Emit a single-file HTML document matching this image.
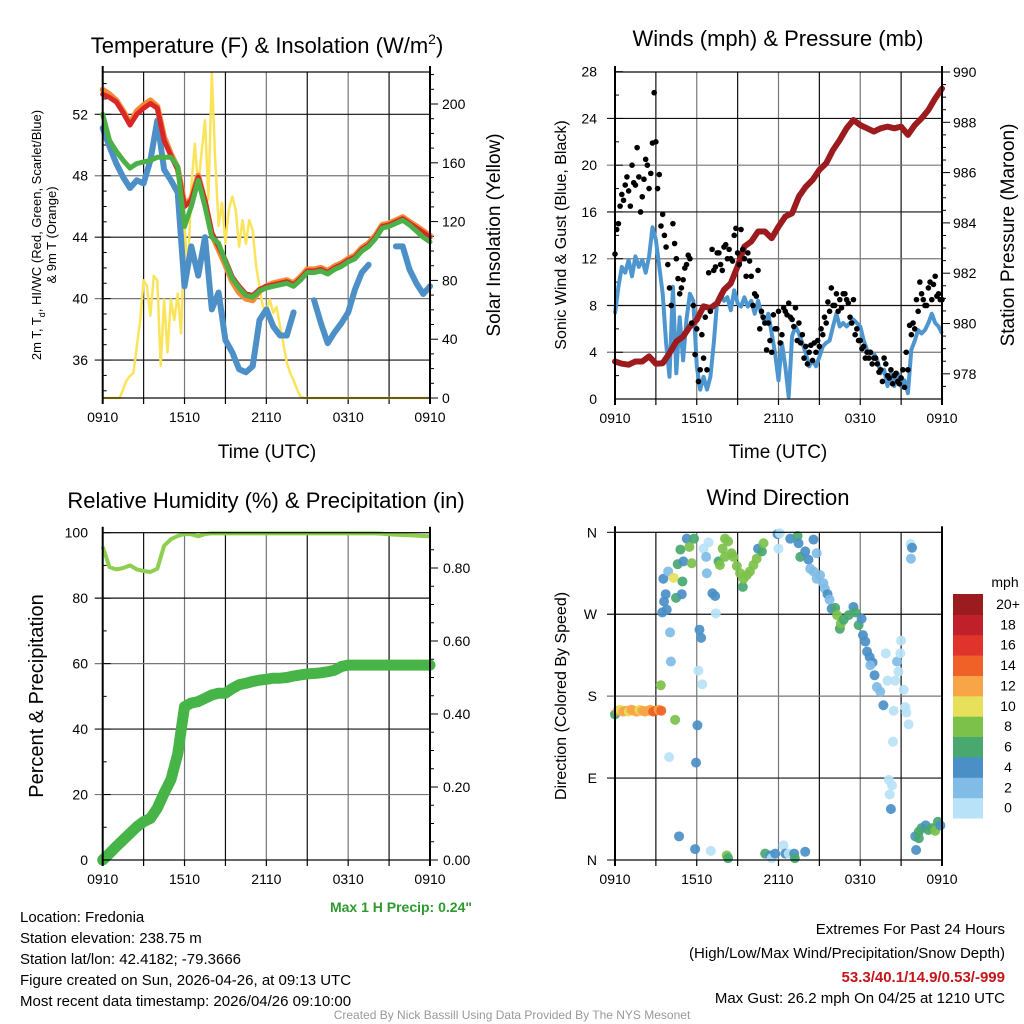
<!DOCTYPE html>
<html><head><meta charset="utf-8"><style>
body{margin:0;background:#fff;}
svg{display:block;font-family:"Liberation Sans",Arial,sans-serif;}
</style></head><body>
<svg id="c" width="1024" height="1024" xmlns="http://www.w3.org/2000/svg"></svg>
<script>
// ---------- DATA ----------
// Temperature panel (0.5h steps, hours 0..24)
const tempRed=[53.3,53.1,52.8,52.1,51.3,52.0,52.4,52.7,52.4,50.3,49.3,48.4,46.0,46.4,47.9,46.4,44.3,43.4,42.5,41.4,40.8,40.3,40.2,40.6,40.8,40.9,41.0,41.1,40.9,41.3,41.8,41.8,41.9,41.7,42.0,42.2,42.5,42.7,43.2,43.5,44.0,44.7,44.8,45.0,45.2,44.9,44.6,44.3,44.0];
const tempOrange=[53.6,53.3,52.9,52.2,51.4,52.2,52.6,52.9,52.5,50.5,49.4,48.5,46.1,46.5,48.0,46.3,44.2,43.2,42.2,41.1,40.4,40.0,39.9,40.5,40.8,41.0,41.1,41.2,41.0,41.4,41.9,41.9,42.0,41.8,42.1,42.3,42.6,42.8,43.3,43.6,44.1,44.8,44.9,45.1,45.3,45.0,44.7,44.4,44.1];
const tempGreen=[52.0,50.3,49.6,49.0,48.5,48.8,48.9,49.0,49.2,49.2,49.2,48.6,44.7,46.0,47.7,46.0,44.0,43.6,42.4,41.3,40.7,40.2,40.1,40.5,40.7,40.8,40.9,41.0,40.8,41.2,41.7,41.7,41.8,41.6,41.9,42.1,42.4,42.6,43.1,43.4,43.9,44.6,44.7,44.9,45.1,44.8,44.4,44.0,43.7];
const tempBlue=[51.1,49.9,48.8,47.9,47.2,47.7,47.5,49.0,51.6,48.4,47.7,46.9,40.8,43.4,41.5,44.0,39.3,40.4,37.3,36.5,35.4,35.2,35.6,38.6,39.3,38.2,37.6,37.6,39.1,null,null,39.9,38.4,37.1,37.8,38.4,39.1,40.6,41.7,42.2,null,null,null,43.4,43.4,41.9,41.0,40.3,40.8];
// Solar insolation (0.25h steps)
const insolation=[0,0,0,0,0,0,6,12,15,17,35,53,80,76,56,83,80,22,67,31,67,53,71,44,117,85,144,173,144,167,189,135,221,162,117,133,105,128,137,128,103,121,105,121,114,90,76,62,60,67,58,62,49,37,24,17,12,6,1,0,0,0,0,0,0,0,0,0,0,0,0,0,0,0,0,0,0,0,0,0,0,0,0,0,0,0,0,0,0,0,0,0,0,0,0,0,0];
// Winds (0.25h steps)
const windSonic=[7.3,9.6,11.3,10.8,11.9,10.5,12.2,11.3,11.9,10.8,12.2,14.7,13.6,11.3,9.0,4.8,1.9,9.6,2.2,7.0,3.3,6.8,9.0,8.4,2.8,0.8,1.9,0.8,1.9,4.8,8.4,9.0,8.4,8.7,7.6,9.3,8.2,7.9,8.7,7.9,8.4,7.3,8.4,7.3,6.5,7.3,5.6,3.9,1.6,4.8,2.8,0.2,5.4,6.2,5.6,4.8,3.9,2.8,3.3,2.8,3.6,4.5,4.8,5.0,6.2,7.3,6.2,6.5,6.2,6.5,6.8,6.5,6.2,5.0,4.2,3.9,3.9,3.3,2.2,2.5,1.1,2.2,1.1,2.2,1.1,1.6,0.5,4.2,5.0,5.9,5.6,5.9,6.5,7.3,6.5,6.2,5.6];
const gustA=[12.4,15.0,17.5,18.3,17.8,20.0,18.3,19.0,17.3,20.5,18.0,21.9,22.0,19.2,15.8,13.0,9.5,15.0,12.0,9.0,10.2,11.5,12.0,8.0,6.0,2.5,3.5,2.5,7.5,11.0,12.5,11.5,13.0,12.0,12.0,14.0,12.5,14.5,12.0,12.5,10.5,9.0,11.0,7.5,6.5,6.5,4.0,6.0,7.5,5.5,7.5,8.2,6.8,7.8,6.5,5.5,4.5,4.0,3.3,4.0,4.5,5.5,6.5,7.5,8.0,9.0,8.5,9.0,8.5,7.0,8.5,6.0,5.0,4.5,4.0,4.0,3.5,3.0,2.5,3.5,2.0,2.5,2.0,1.5,1.8,1.0,2.5,5.5,6.0,7.5,9.0,8.0,9.5,8.5,10.5,9.0,8.5];
const gustB=[14.5,16.5,17.0,19.0,16.5,18.5,21.5,16.0,18.8,20.0,19.3,26.2,18.0,14.8,14.0,11.5,8.0,13.3,10.3,9.5,11.2,12.3,6.5,3.8,1.5,5.5,7.0,10.8,12.8,11.3,12.5,11.0,13.2,12.8,11.8,14.6,11.5,12.8,10.5,11.8,8.0,8.8,6.0,7.0,4.2,5.0,7.2,6.0,4.8,7.8,7.2,7.0,6.2,5.0,4.8,3.5,3.0,4.6,4.8,5.0,6.0,7.0,8.3,9.5,8.0,7.5,7.8,9.0,8.2,6.5,5.5,5.0,4.3,3.5,3.5,3.0,3.5,2.3,1.5,3.0,1.8,1.3,2.2,1.3,2.5,4.0,6.3,6.5,8.5,10.0,8.5,8.0,10.0,9.8,8.8,8.5];
// Pressure (0.5h steps)
const pressure=[978.49,978.40,978.36,978.49,978.49,978.69,978.40,978.42,978.82,979.28,979.48,979.88,980.15,980.68,980.61,980.81,981.34,981.60,982.27,983.06,983.26,983.66,983.66,983.39,983.85,984.25,984.38,985.05,985.44,985.71,986.11,986.37,986.90,987.30,987.76,988.09,987.89,987.76,987.63,987.76,987.83,987.76,987.83,987.50,987.89,988.16,988.49,988.95,989.34];
// Relative humidity (0.5h) and precip (0.5h)
const rh=[95.7,89.5,88.8,89.2,90.0,88.8,88.3,88.0,89.0,96.0,98.0,99.0,99.6,99.5,98.9,99.6,99.8,99.8,99.8,99.8,99.8,99.8,99.8,99.8,99.8,99.8,99.8,99.8,99.8,99.8,99.8,99.8,99.8,99.8,99.8,99.8,99.8,99.8,99.8,99.8,99.8,99.7,99.5,99.4,99.3,99.2,99.1,99.0,98.9];
const precip=[0,0.018,0.037,0.055,0.073,0.091,0.105,0.114,0.142,0.183,0.22,0.29,0.42,0.43,0.434,0.443,0.452,0.457,0.457,0.47,0.48,0.484,0.489,0.493,0.495,0.498,0.498,0.50,0.504,0.507,0.51,0.511,0.513,0.516,0.52,0.53,0.534,0.534,0.534,0.534,0.534,0.534,0.534,0.534,0.534,0.534,0.534,0.534,0.534];
// Wind direction observations
const dirHour=[0,0.2,0.4,0.6,0.8,1.0,1.2,1.4,1.6,1.8,2.0,2.2,2.4,2.6,2.8,3.0,3.2,3.4,3.36,4.41,3.47,3.8,3.6,3.72,3.55,3.9,4.3,4.6,4.8,4.95,4.48,4.9,5.02,5.27,5.46,5.63,5.8,4.04,4.1,3.97,4.7,5.88,6.05,5.95,6.2,6.32,6.12,6.4,6.5,6.69,6.86,6.74,7.03,7.15,7.35,7.4,7.6,7.7,7.9,8.07,8.3,8.2,8.3,8.07,8.55,8.7,8.94,9.18,9.38,9.43,9.67,9.9,10.16,10.4,10.5,10.78,10.9,11.02,11.4,11.5,11.76,11.93,12.1,12.0,12.37,12.5,12.75,12.86,13.15,13.2,13.4,13.47,13.6,13.96,14.2,14.57,14.8,13.96,14.33,14.57,14.8,15.05,15.3,15.4,15.6,15.75,15.9,16.16,16.3,16.5,16.58,16.78,17.15,17.5,17.63,17.88,18.1,18.2,18.37,18.5,18.69,18.9,18.74,19.05,19.22,19.47,19.7,19.88,20.0,20.45,20.57,20.7,20.8,20.94,21.0,21.19,21.3,21.38,21.55,20.4,20.1,20.33,20.16,20.25,21.7,21.8,21.72,22.04,22.3,22.5,22.8,23.0,23.27,23.5,23.7,23.88,22.1,22.3];
const dirDeg=[160,164,165,163,164,163,165,164,163,165,164,163,164,165,163,164,165,164,192,154,272,275,284,292,309,317,310,325,341,306,288,292,328,353,344,326,353,250,218,113,26,12,148,107,253,244,208,193,342,333,349,315,10,293,290,271,328,324,342,353,350,5,2,333,337,333,323,315,300,309,313,317,324,331,342,339,348,7,5,2,7,358,359,342,16,7,7,353,7,2,356,348,333,339,330,352,337,9,320,317,309,313,304,298,292,286,276,277,269,254,260,264,269,278,272,258,265,247,240,229,223,217,214,203,190,185,170,227,197,164,197,218,207,227,241,187,168,162,149,130,88,82,72,56,347,343,331,26,31,35,38,33,35,32,42,38,11,24];
const dirSpeed=[6,12,10,12,12,10,12,12,12,10,12,12,12,12,14,14,12,14,8,8,4,4,4,4,4,2,10,6,6,6,6,4,4,4,8,8,6,2,2,1,4,4,4,4,4,4,1,1,1,2,1,2,1,4,4,1,6,8,8,8,8,8,6,8,8,8,8,8,6,8,8,8,8,8,4,6,8,6,4,1,4,4,1,1,1,4,1,4,4,6,6,4,6,4,4,4,2,4,2,2,2,2,2,2,4,2,4,6,8,6,8,6,6,4,6,6,4,4,4,4,4,4,2,4,2,2,4,1,1,1,1,2,1,1,1,1,1,1,1,1,1,1,1,4,1,4,2,4,6,6,4,6,6,8,6,4,4,6];
const speedColors=["#b8e2f7","#80bce6","#4a8fc6","#48a870","#7cc14a","#e6e05a","#f7a546","#f06127","#e0332c","#c0202a","#9b1b1e"];
const speedLabels=["0","2","4","6","8","10","12","14","16","18","20+"];
const timeLabels=["0910","1510","2110","0310","0910"];

// ---------- HELPERS ----------
const NS="http://www.w3.org/2000/svg";
const svg=document.getElementById('c');
function mk(tag,attrs,parent){const e=document.createElementNS(NS,tag);for(const k in attrs)e.setAttribute(k,attrs[k]);(parent||svg).appendChild(e);return e;}
function txt(x,y,s,size,anchor,extra){const t=mk('text',Object.assign({x:x,y:y,'font-size':size,'text-anchor':anchor||'middle',fill:'#000'},extra||{}));t.textContent=s;return t;}
function pathFrom(vals,step,xf,yf){let d='',pen=false;vals.forEach((v,i)=>{if(v===null||v===undefined){pen=false;return;}const X=xf(i*step),Y=yf(v);d+=(pen?'L':'M')+X.toFixed(1)+','+Y.toFixed(1);pen=true;});return d;}

function panel(x0,x1,y0,y1,hLines,name){
  const g=mk('g',{});
  
  
  for(let k=1;k<8;k++){const X=x0+k*(x1-x0)/8;const l=mk('line',{x1:X,x2:X,y1:y0,y2:y1,stroke:k%2?'#111':'#777','stroke-width':1.2},g);
    }
  hLines.forEach((Y,i)=>{const l=mk('line',{x1:x0-8,x2:x1,y1:Y,y2:Y,stroke:i%2?'#777':'#111','stroke-width':1.2},g);
    });
  for(let k=0;k<=8;k++){const X=x0+k*(x1-x0)/8;mk('line',{x1:X,x2:X,y1:y1,y2:y1+6,stroke:'#000','stroke-width':1.2},g);}
  timeLabels.forEach((s,i)=>{const t=txt(x0+i*(x1-x0)/4,y1+24,s,14);});
  return g;
}
function frame(x0,x1,y0,y1){mk('rect',{x:x0,y:y0,width:x1-x0,height:y1-y0,fill:'none',stroke:'#000','stroke-width':1.2});
  mk('line',{x1:x0,x2:x0,y1:y0-6,y2:y1+6,stroke:'#000','stroke-width':2});mk('line',{x1:x1,x2:x1,y1:y0-6,y2:y1+6,stroke:'#000','stroke-width':2});}

// ---------- PANEL 1: Temperature ----------
{const x0=102.7,x1=430,y0=72,y1=398;
 const X=h=>x0+h/24*(x1-x0);const YT=T=>114.3+(52-T)*15.36;const YW=w=>398-w*1.47;
 const grid=[36,40,44,48,52].map(YT).reverse();
 panel(x0,x1,y0,y1,grid,'temperature-panel-grid');
 for(let T=34;T<=55;T++){const Y=YT(T);if(Y<y0||Y>y1)continue;mk('line',{x1:x0,x2:x0+(T%4?4:8),y1:Y,y2:Y,stroke:'#000'});}
 for(let w=0;w<=220;w+=10){const Y=YW(w);if(Y<y0)continue;mk('line',{x1:x1,x2:x1+(w%40?4:8),y1:Y,y2:Y,stroke:'#000'});}
 const ins=mk('path',{d:pathFrom(insolation,0.25,X,YW),fill:'none',stroke:'#fbe45a','stroke-width':2.5,'stroke-linejoin':'round'});
 
 const series=[[tempBlue,'#4d90c8','dewpoint-line',6],[tempOrange,'#f58a36','9m-temperature-line',6],[tempRed,'#d92727','2m-temperature-line',5],[tempGreen,'#4bb045','heat-index-windchill-line',5]];
 series.forEach(s=>{const p=mk('path',{d:pathFrom(s[0],0.5,X,YT),fill:'none',stroke:s[1],'stroke-width':s[3],'stroke-linejoin':'round','stroke-linecap':'round'});
   });
 frame(x0,x1,y0,y1);
 [36,40,44,48,52].forEach(T=>{const t=txt(88,YT(T)+5,String(T),14,'end');});
 [0,40,80,120,160,200].forEach(w=>{const t=txt(442,YW(w)+5,String(w),14,'start');});
 const ti=txt(267,53,'',22);ti.innerHTML='Temperature (F) &amp; Insolation (W/m<tspan dy="-9" font-size="14">2</tspan><tspan dy="9">)</tspan>';
 
 const yl=txt(0,0,'',13,'middle',{transform:'translate(41,235) rotate(-90)'});yl.innerHTML='2m T, T<tspan dy="4" font-size="9">d</tspan><tspan dy="-4">, HI/WC (Red, Green, Scarlet/Blue)</tspan>';
 
 const yl2=txt(0,0,'& 9m T (Orange)',13,'middle',{transform:'translate(56,235) rotate(-90)'});
 const yr=txt(0,0,'Solar Insolation (Yellow)',19,'middle',{transform:'translate(500,235) rotate(-90)'});
 const xt=txt(267,458,'Time (UTC)',19);
}

// ---------- PANEL 2: Winds ----------
{const x0=615,x1=942,y0=72,y1=399;
 const X=h=>x0+h/24*(x1-x0);const YV=v=>399-v*11.69;const YP=p=>72+(990-p)*25.15;
 const grid=[4,8,12,16,20,24].map(YV).reverse();
 panel(x0,x1,y0,y1,grid,'winds-panel-grid');
 for(let v=0;v<=28;v+=2){mk('line',{x1:x0,x2:x0+(v%4?4:8),y1:YV(v),y2:YV(v),stroke:'#000'});}
 for(let p=977.5;p<=990;p+=0.5){const Y=YP(p);if(Y>y1)continue;mk('line',{x1:x1,x2:x1+(p%2?4:8),y1:Y,y2:Y,stroke:'#000'});}
 const ws=mk('path',{d:pathFrom(windSonic,0.25,X,YV),fill:'none',stroke:'#4d96d0','stroke-width':4,'stroke-linejoin':'round'});
 
 const pr=mk('path',{d:pathFrom(pressure,0.5,X,YP),fill:'none',stroke:'#9b1b1e','stroke-width':6,'stroke-linejoin':'round','stroke-linecap':'round'});
 
 gustA.forEach((v,i)=>{const c=mk('circle',{cx:X(i*0.25),cy:YV(v),r:2.8,fill:'#000'});});
 gustB.forEach((v,i)=>{const c=mk('circle',{cx:X(i*0.25+0.125),cy:YV(v),r:2.8,fill:'#000'});});
 frame(x0,x1,y0,y1);
 for(let v=0;v<=28;v+=4){const t=txt(597,YV(v)+5,String(v),14,'end');}
 for(let p=978;p<=990;p+=2){const t=txt(953,YP(p)+5,String(p),14,'start');}
 const ti=txt(778,46,'Winds (mph) & Pressure (mb)',22);
 const yl=txt(0,0,'Sonic Wind & Gust (Blue, Black)',16,'middle',{transform:'translate(566,235) rotate(-90)'});
 const yr=txt(0,0,'Station Pressure (Maroon)',19,'middle',{transform:'translate(1014,235) rotate(-90)'});
 const xt=txt(778,458,'Time (UTC)',19);
}

// ---------- PANEL 3: RH & Precip ----------
{const x0=102.7,x1=430,y0=532.7,y1=860;
 const X=h=>x0+h/24*(x1-x0);const YR=r=>860-r*3.273;const YP=p=>860-p*365;
 const grid=[20,40,60,80].map(YR).reverse();
 panel(x0,x1,y0,y1,grid,'humidity-panel-grid');
 for(let r=0;r<=100;r+=10){mk('line',{x1:x0,x2:x0+(r%20?4:8),y1:YR(r),y2:YR(r),stroke:'#000'});}
 for(let p=0;p<=0.9;p+=0.05){const Y=YP(p);mk('line',{x1:x1,x2:x1+(Math.round(p*100)%20?4:8),y1:Y,y2:Y,stroke:'#000'});}
 const pl=mk('path',{d:pathFrom(precip,0.5,X,YP),fill:'none',stroke:'#46b446','stroke-width':11,'stroke-linejoin':'round','stroke-linecap':'round'});
 
 const rl=mk('path',{d:pathFrom(rh,0.5,X,YR),fill:'none',stroke:'#8fcf50','stroke-width':4,'stroke-linejoin':'round'});
 
 frame(x0,x1,y0,y1);
 for(let r=0;r<=100;r+=20){const t=txt(88,YR(r)+5,String(r),14,'end');}
 [0,0.2,0.4,0.6,0.8].forEach(p=>{const t=txt(443,YP(p)+5,p.toFixed(2),14,'start');});
 const ti=txt(266,508,'Relative Humidity (%) & Precipitation (in)',22);
 const yl=txt(0,0,'Percent & Precipitation',20,'middle',{transform:'translate(43,696) rotate(-90)'});
 const mp=txt(472,912,'Max 1 H Precip: 0.24"',14,'end',{fill:'#2e9a2e','font-weight':'bold'});
}

// ---------- PANEL 4: Wind Direction ----------
{const x0=615,x1=942,y0=532.3,y1=860;
 const X=h=>x0+h/24*(x1-x0);const YD=d=>860-d/360*(y1-y0);
 const grid=[90,180,270].map(YD).reverse();
 panel(x0,x1,y0,y1,grid,'direction-panel-grid');
 dirHour.forEach((h,i)=>{const s=dirSpeed[i];const b=Math.min(10,Math.floor(s/2));
   const c=mk('circle',{cx:X(h),cy:YD(dirDeg[i]),r:5,fill:speedColors[b],'fill-opacity':0.92});
   });
 frame(x0,x1,y0,y1);
 mk('line',{x1:x0-8,x2:x0,y1:y0,y2:y0,stroke:'#000'});mk('line',{x1:x0-8,x2:x0,y1:y1,y2:y1,stroke:'#000'});
 ['N','E','S','W','N'].forEach((s,i)=>{const t=txt(597,YD(i*90)+5,s,14,'end');});
 const ti=txt(778,505,'Wind Direction',22);
 const yl=txt(0,0,'Direction (Colored By Speed)',16,'middle',{transform:'translate(566,696) rotate(-90)'});
 // colorbar
 const cbTop=594,cbH=224/11;
 const u=txt(1005,587,'mph',14);
 speedColors.forEach((c,i)=>{const k=10-i;const r=mk('rect',{x:953,y:cbTop+k*cbH,width:30,height:cbH+0.5,fill:c});
   
   const t=txt(1008,cbTop+k*cbH+15,speedLabels[i],14);});
}

// ---------- FOOTER TEXT ----------
{const lines=['Location: Fredonia','Station elevation: 238.75 m','Station lat/lon: 42.4182; -79.3666','Figure created on Sun, 2026-04-26, at 09:13 UTC','Most recent data timestamp: 2026/04/26 09:10:00'];
 lines.forEach((s,i)=>{const t=txt(20,922+i*21,s,15,'start');});
 const r1=txt(1005,934,'Extremes For Past 24 Hours',15,'end');
 const r2=txt(1005,958,'(High/Low/Max Wind/Precipitation/Snow Depth)',15,'end');
 const r3=txt(1005,982,'53.3/40.1/14.9/0.53/-999',15,'end',{fill:'#c4161c','font-weight':'bold'});
 const r4=txt(1005,1003,'Max Gust: 26.2 mph On 04/25 at 1210 UTC',15,'end');
 const f=txt(512,1019,'Created By Nick Bassill Using Data Provided By The NYS Mesonet',12,'middle',{fill:'#999'});
}
</script>
</body></html>
